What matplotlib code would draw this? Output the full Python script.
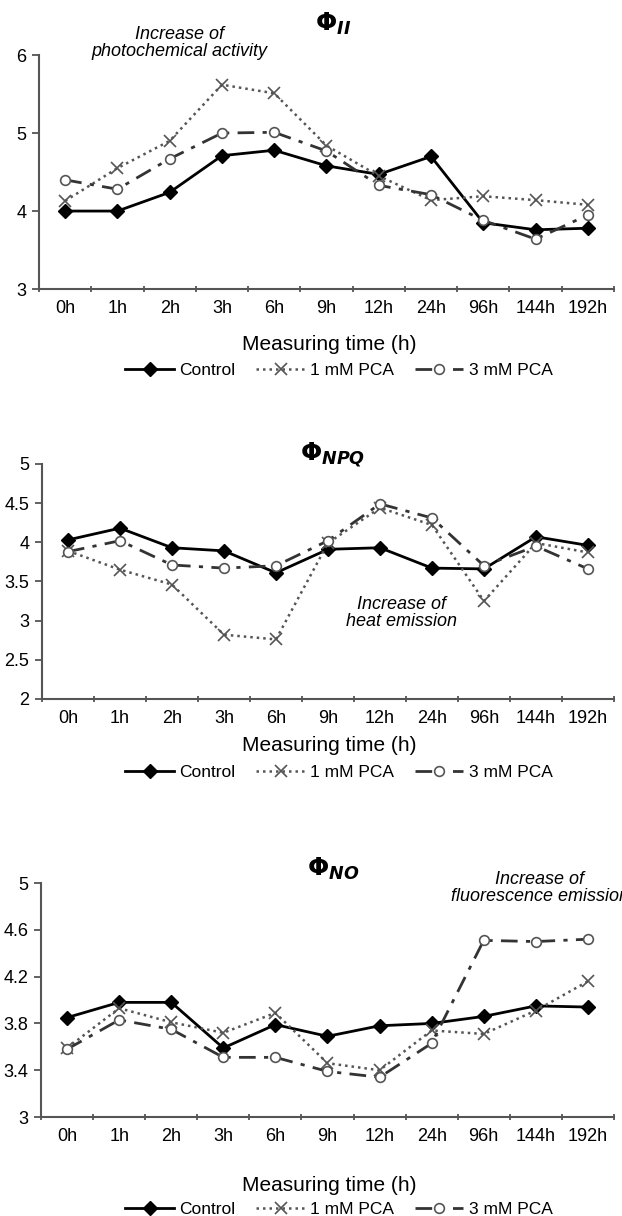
import numpy as np
import matplotlib
matplotlib.use("Agg")
from matplotlib import pyplot as plt

plt.rcParams['font.family'] = ['Liberation Sans', 'DejaVu Sans']
plt.rcParams['mathtext.fontset'] = 'dejavusans'

# DATA
times = ["0h", "1h", "2h", "3h", "6h", "9h", "12h", "24h", "96h", "144h", "192h"]
series_names = ["Control", "1 mM PCA", "3 mM PCA"]

phi2_control = [4.00, 4.00, 4.24, 4.71, 4.78, 4.58, 4.47, 4.70, 3.85, 3.76, 3.78]
phi2_pca1 = [4.13, 4.55, 4.90, 5.62, 5.51, 4.84, 4.45, 4.14, 4.19, 4.14, 4.08]
phi2_pca3 = [4.40, 4.28, 4.67, 5.00, 5.01, 4.77, 4.33, 4.21, 3.88, 3.64, 3.95]

npq_control = [4.03, 4.18, 3.93, 3.89, 3.61, 3.91, 3.93, 3.67, 3.66, 4.07, 3.96]
npq_pca1 = [3.89, 3.65, 3.46, 2.82, 2.76, 3.99, 4.44, 4.22, 3.25, 3.99, 3.87]
npq_pca3 = [3.88, 4.02, 3.71, 3.67, 3.70, 4.02, 4.49, 4.31, 3.70, 3.95, 3.66]

no_control = [3.85, 3.98, 3.98, 3.59, 3.79, 3.69, 3.78, 3.80, 3.86, 3.95, 3.94]
no_pca1 = [3.59, 3.93, 3.81, 3.72, 3.89, 3.46, 3.40, 3.74, 3.71, 3.91, 4.16]
no_pca3 = [3.58, 3.83, 3.75, 3.51, 3.51, 3.39, 3.34, 3.63, 4.51, 4.50, 4.52]

panels = [
    dict(vals=(phi2_control, phi2_pca1, phi2_pca3), title=r'$\mathbf{\Phi}_{\mathbfit{II}}$',
         ylim=(3, 6), yticks=[3, 4, 5, 6], ylabels=["3", "4", "5", "6"],
         rect=[0.0627, 0.7623, 0.9244, 0.1924], title_y=0.9745, xlabel_y=0.7171, legend_y=0.6957,
         note="Increase of\nphotochemical activity", note_xy=(0.288, 0.9646)),
    dict(vals=(npq_control, npq_pca1, npq_pca3), title=r'$\mathbf{\Phi}_{\mathbfit{NPQ}}$',
         ylim=(2, 5), yticks=[2, 2.5, 3, 3.5, 4, 4.5, 5], ylabels=["2", "2.5", "3", "3.5", "4", "4.5", "5"],
         rect=[0.0675, 0.4252, 0.9196, 0.1933], title_y=0.6217, xlabel_y=0.3873, legend_y=0.3651,
         note="Increase of\nheat emission", note_xy=(0.645, 0.4959)),
    dict(vals=(no_control, no_pca1, no_pca3), title=r'$\mathbf{\Phi}_{\mathbfit{NO}}$',
         ylim=(3, 5), yticks=[3, 3.4, 3.8, 4.2, 4.6, 5], ylabels=["3", "3.4", "3.8", "4.2", "4.6", "5"],
         rect=[0.066, 0.0814, 0.921, 0.1924], title_y=0.2796, xlabel_y=0.0247, legend_y=0.0055,
         note="Increase of\nfluorescence emission", note_xy=(0.868, 0.2698)),
]

styles = [
    dict(color="black", ls="-", lw=2.0, marker="D", ms=7, mfc="black", mec="black"),
    dict(color="#555555", ls=(0, (1, 1.6)), lw=1.8, marker="x", ms=8, mfc="none", mec="#555555", mew=1.2),
    dict(color="#333333", ls=(0, (6, 3, 1.5, 3)), lw=2.0, marker="o", ms=7, mfc="white", mec="#555555", mew=1.2),
]

fig = plt.figure(figsize=(6.22, 12.16), dpi=100)
x = np.arange(len(times))

for p in panels:
    ax = fig.add_axes(p["rect"])
    handles = []
    for vals, name, st in zip(p["vals"], series_names, styles):
        h, = ax.plot(x, vals, label=name, clip_on=False, **st)
        handles.append(h)
    ax.set_xlim(-0.5, len(times) - 0.5)
    ax.set_ylim(*p["ylim"])
    ax.set_yticks(p["yticks"])
    ax.set_yticklabels(p["ylabels"], fontsize=13)
    ax.set_xticks(x)
    ax.set_xticklabels(times, fontsize=13)
    ax.set_xticks(np.arange(-0.5, len(times), 1.0), minor=True)
    ax.tick_params(axis="x", which="major", length=0, pad=8)
    ax.tick_params(axis="x", which="minor", length=5, width=1.3, color="#555555", direction="inout")
    ax.tick_params(axis="y", length=5, width=1.3, color="#555555", direction="out", pad=4)
    for s in ["top", "right"]:
        ax.spines[s].set_visible(False)
    for s in ["left", "bottom"]:
        ax.spines[s].set_color("#555555")
        ax.spines[s].set_linewidth(1.5)
    fig.text(0.535, p["title_y"], p["title"], fontsize=18, ha="center", va="baseline")
    fig.text(0.529, p["xlabel_y"], "Measuring time (h)", fontsize=15, ha="center", va="center")
    fig.text(p["note_xy"][0], p["note_xy"][1], p["note"], fontsize=13, style="italic",
             ha="center", va="center", linespacing=1.0)
    fig.legend(handles=handles, loc="center", bbox_to_anchor=(0.545, p["legend_y"]),
               ncol=3, frameon=False, fontsize=12.5, handlelength=2.8, columnspacing=1.2,
               handletextpad=0.3, borderpad=0.1)

fig.savefig("out.png", dpi=100)
